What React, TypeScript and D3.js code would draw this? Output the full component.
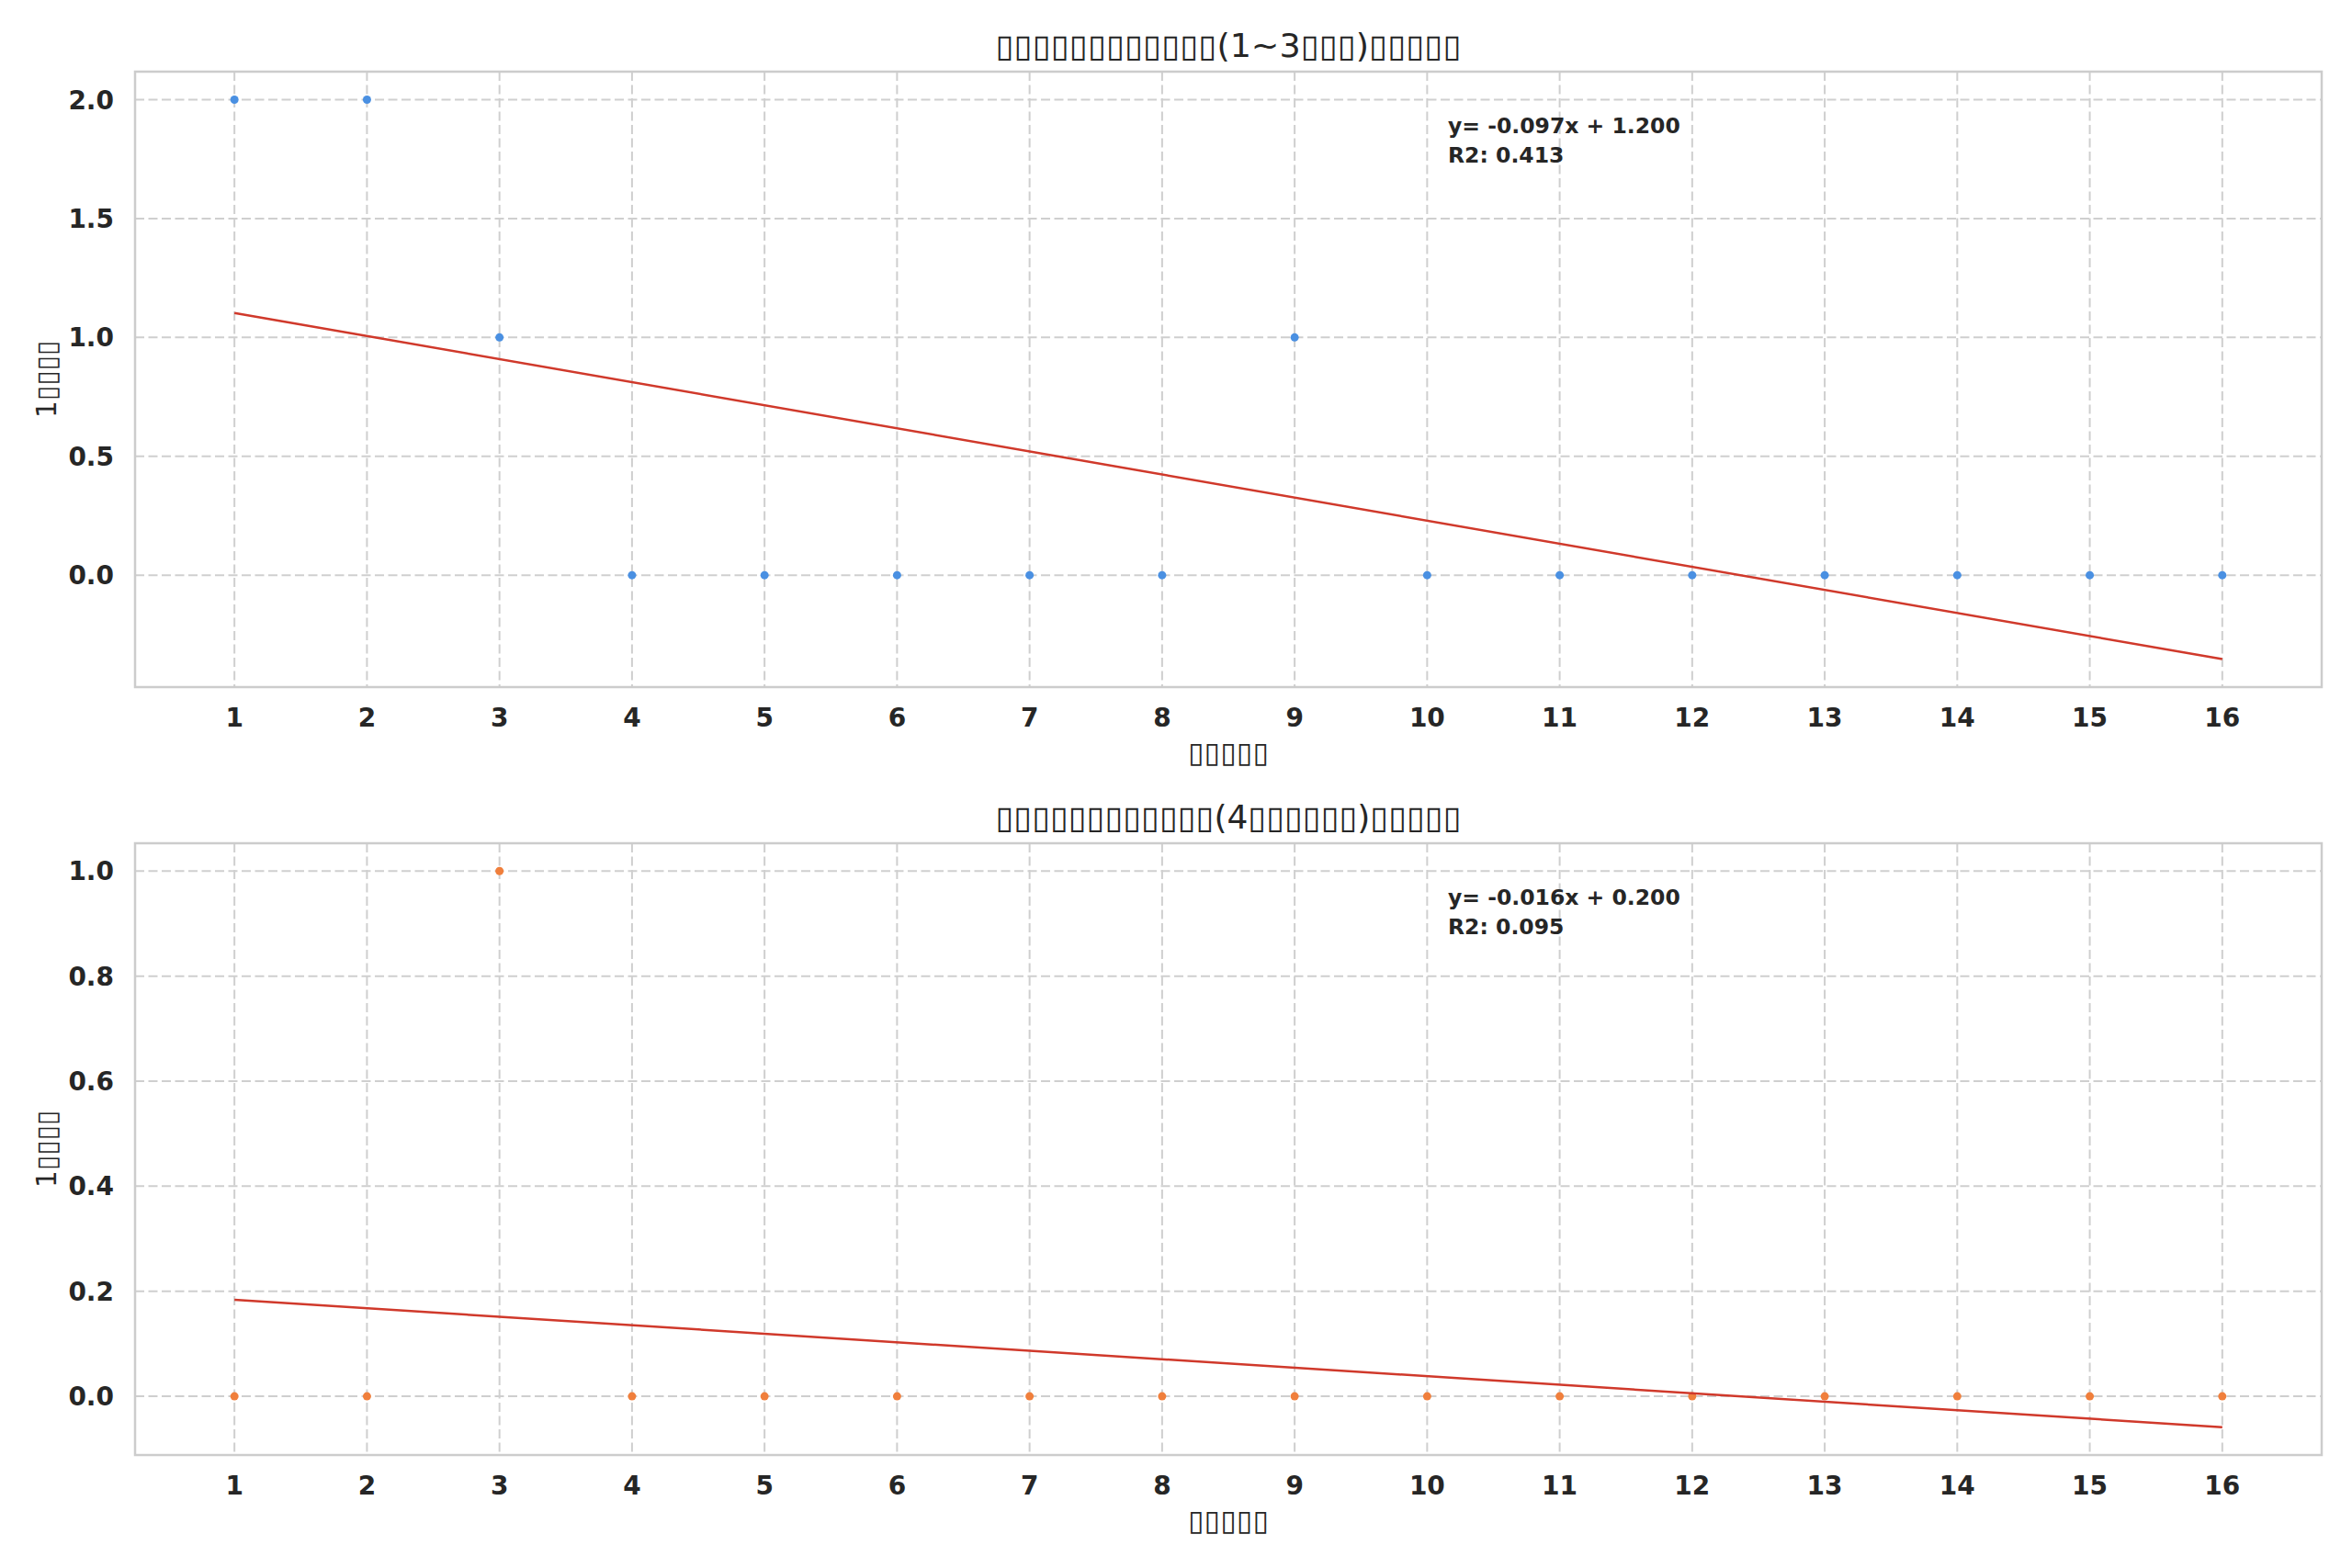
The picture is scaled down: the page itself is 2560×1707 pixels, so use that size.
import * as d3 from 'd3';
import React, { useEffect, useRef } from 'react';

// months on the x axis
const months = [1, 2, 3, 4, 5, 6, 7, 8, 9, 10, 11, 12, 13, 14, 15, 16];
// counts per month
const seriesShort = [2, 2, 1, 0, 0, 0, 0, 0, 1, 0, 0, 0, 0, 0, 0, 0];
const seriesLong = [0, 0, 1, 0, 0, 0, 0, 0, 0, 0, 0, 0, 0, 0, 0, 0];
const yTicksShort = [0, 0.5, 1.0, 1.5, 2.0];
const yTicksLong = [0, 0.2, 0.4, 0.6, 0.8, 1.0];

// the labels came out as missing-glyph boxes in the source image
const titleShort = '▯▯▯▯▯▯▯▯▯▯▯▯(1~3▯▯▯)▯▯▯▯▯';
const titleLong = '▯▯▯▯▯▯▯▯▯▯▯▯(4▯▯▯▯▯▯)▯▯▯▯▯';
const xLabel = '▯▯▯▯▯';
const yLabel = '1▯▯▯▯';

const W = 2560;
const H = 1707;
const LEFT = 147;
const RIGHT = 2527;
const TEXT = '#262626';
const GRID = '#cfcfcf';
const FONT = "'DejaVu Sans', sans-serif";

function fit(xs: number[], ys: number[]) {
  const mx = d3.mean(xs)!;
  const my = d3.mean(ys)!;
  const sxy = d3.sum(xs, (x, i) => (x - mx) * (ys[i] - my));
  const sxx = d3.sum(xs, x => (x - mx) ** 2);
  const syy = d3.sum(ys, y => (y - my) ** 2);
  const slope = sxy / sxx;
  return { slope, intercept: my - slope * mx, r2: (sxy * sxy) / (sxx * syy) };
}

export default function App() {
  const svgRef = useRef<SVGSVGElement>(null);

  useEffect(() => {
    document.body.style.margin = '0';
    if (!svgRef.current) return;
    const svg = d3.select(svgRef.current);
    svg.selectAll('*').remove();

    const panels = [
      { top: 78, bottom: 748, ys: seriesShort, ticks: yTicksShort, color: '#4a90e2', title: titleShort },
      { top: 918, bottom: 1584, ys: seriesLong, ticks: yTicksLong, color: '#f07f3c', title: titleLong },
    ];

    const xPad = 0.05 * (d3.max(months)! - d3.min(months)!);
    const x = d3
      .scaleLinear()
      .domain([d3.min(months)! - xPad, d3.max(months)! + xPad])
      .range([LEFT, RIGHT]);

    panels.forEach(p => {
      const f = fit(months, p.ys);
      const x0 = months[0];
      const x1 = months[months.length - 1];
      const lineVals = [f.intercept + f.slope * x0, f.intercept + f.slope * x1];
      const lo = Math.min(d3.min(p.ys)!, ...lineVals);
      const hi = Math.max(d3.max(p.ys)!, ...lineVals);
      const yPad = 0.05 * (hi - lo);
      const y = d3.scaleLinear().domain([lo - yPad, hi + yPad]).range([p.bottom, p.top]);

      const g = svg.append('g');

      // grid
      g.selectAll('line.vg')
        .data(months)
        .join('line')
        .attr('x1', d => x(d))
        .attr('x2', d => x(d))
        .attr('y1', p.top)
        .attr('y2', p.bottom)
        .attr('stroke', GRID)
        .attr('stroke-width', 2)
        .attr('stroke-dasharray', '10,4.5');
      g.selectAll('line.hg')
        .data(p.ticks)
        .join('line')
        .attr('x1', LEFT)
        .attr('x2', RIGHT)
        .attr('y1', d => y(d))
        .attr('y2', d => y(d))
        .attr('stroke', GRID)
        .attr('stroke-width', 2)
        .attr('stroke-dasharray', '10,4.5');

      // frame
      g.append('rect')
        .attr('x', LEFT)
        .attr('y', p.top)
        .attr('width', RIGHT - LEFT)
        .attr('height', p.bottom - p.top)
        .attr('fill', 'none')
        .attr('stroke', '#cccccc')
        .attr('stroke-width', 2.5);

      // tick labels
      g.selectAll('text.xt')
        .data(months)
        .join('text')
        .attr('x', d => x(d))
        .attr('y', p.bottom + 43)
        .attr('text-anchor', 'middle')
        .attr('font-family', FONT)
        .attr('font-weight', 'bold')
        .attr('font-size', 28)
        .attr('fill', TEXT)
        .text(d => d);
      g.selectAll('text.yt')
        .data(p.ticks)
        .join('text')
        .attr('x', 124)
        .attr('y', d => y(d))
        .attr('dy', '0.36em')
        .attr('text-anchor', 'end')
        .attr('font-family', FONT)
        .attr('font-weight', 'bold')
        .attr('font-size', 28)
        .attr('fill', TEXT)
        .text(d => d3.format('.1f')(d));

      // points
      g.selectAll('circle')
        .data(months)
        .join('circle')
        .attr('cx', d => x(d))
        .attr('cy', (d, i) => y(p.ys[i]))
        .attr('r', 4.5)
        .attr('fill', p.color);

      // fitted line
      g.append('line')
        .attr('x1', x(x0))
        .attr('x2', x(x1))
        .attr('y1', y(lineVals[0]))
        .attr('y2', y(lineVals[1]))
        .attr('stroke', '#d0392b')
        .attr('stroke-width', 2.5);

      // equation
      const sign = f.intercept >= 0 ? '+' : '-';
      const eq = g
        .append('text')
        .attr('font-family', FONT)
        .attr('font-weight', 'bold')
        .attr('font-size', 23.5)
        .attr('fill', TEXT);
      eq.append('tspan')
        .attr('x', 1576)
        .attr('y', p.top + 67)
        .text(`y= ${f.slope.toFixed(3)}x ${sign} ${Math.abs(f.intercept).toFixed(3)}`);
      eq.append('tspan')
        .attr('x', 1576)
        .attr('y', p.top + 99)
        .text(`R2: ${f.r2.toFixed(3)}`);

      // titles and axis labels
      g.append('text')
        .attr('x', (LEFT + RIGHT) / 2)
        .attr('y', p.top - 16)
        .attr('text-anchor', 'middle')
        .attr('font-family', FONT)
        .attr('font-size', 35)
        .attr('fill', TEXT)
        .attr('textLength', 507)
        .attr('lengthAdjust', 'spacingAndGlyphs')
        .text(p.title);
      g.append('text')
        .attr('x', (LEFT + RIGHT) / 2)
        .attr('y', p.bottom + 82)
        .attr('text-anchor', 'middle')
        .attr('font-family', FONT)
        .attr('font-size', 31)
        .attr('fill', TEXT)
        .attr('textLength', 88)
        .attr('lengthAdjust', 'spacingAndGlyphs')
        .text(xLabel);
      g.append('text')
        .attr('transform', `translate(61,${(p.top + p.bottom) / 2}) rotate(-90)`)
        .attr('text-anchor', 'middle')
        .attr('font-family', FONT)
        .attr('font-size', 30)
        .attr('fill', TEXT)
        .attr('textLength', 84)
        .attr('lengthAdjust', 'spacingAndGlyphs')
        .text(yLabel);
    });
  }, []);

  return <svg ref={svgRef} width={W} height={H} style={{ display: 'block', background: '#fff' }} />;
}
